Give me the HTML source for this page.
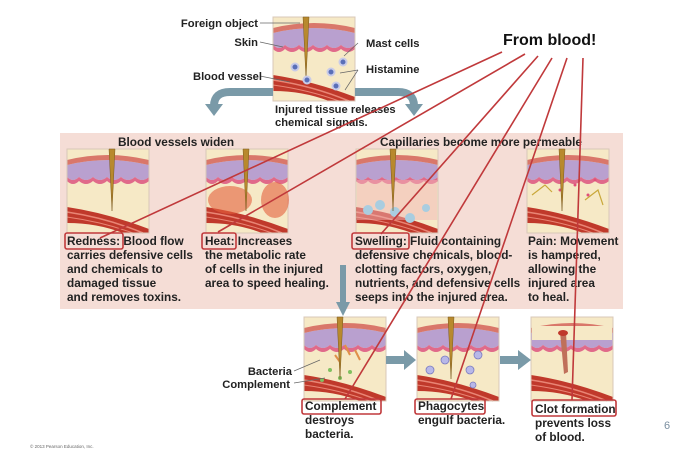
<!DOCTYPE html>
<html><head><meta charset="utf-8"><style>
html,body{margin:0;padding:0;background:#fff;}
svg{display:block;font-family:"Liberation Sans",Arial,sans-serif;}
.t{font-size:11.8px;font-weight:bold;fill:#222;}
.s{font-size:11.8px;font-weight:bold;fill:#222;}
.l{font-size:11.2px;font-weight:bold;fill:#222;}
</style></head><body>
<svg width="700" height="449" viewBox="0 0 700 449" xmlns="http://www.w3.org/2000/svg">
<defs>
<g id="panel">
  <rect x="0" y="0" width="82" height="84" fill="#f6e9c6"/>
  <path d="M0 16 Q41 6 82 16 L82 28 Q75 34 68 28 Q61 34 54 28 Q47 34 40 28 Q33 34 26 28 Q19 34 12 28 Q6 34 0 28Z" fill="#b9a0cf"/>
  <path d="M0 11 Q41 1 82 11 L82 16 Q41 6 0 16Z" fill="#d9776a"/>
  <path d="M0 28 Q6 34 12 28 Q19 34 26 28 Q33 34 40 28 Q47 34 54 28 Q61 34 68 28 Q75 34 82 28 L82 32 Q75 38 68 32 Q61 38 54 32 Q47 38 40 32 Q33 38 26 32 Q19 38 12 32 Q6 38 0 32Z" fill="#e06a8a"/>
  <path d="M0 58 Q40 64 82 80 L82 84 L56 84 Q30 74 0 74Z" fill="#c0392b"/>
  <path d="M0 63 Q40 69 76 84" stroke="#e98575" stroke-width="1.5" fill="none"/>
  <path d="M0 68 Q36 73 66 84" stroke="#e98575" stroke-width="1" fill="none"/>
  <rect x="0" y="0" width="82" height="84" fill="none" stroke="#d8c8b8" stroke-width="1"/>
</g>
<g id="needle"><path d="M-3 0 L3 0 L0 62Z" fill="#b8892d" stroke="#7a5a20" stroke-width="0.5"/></g>
</defs>

<rect x="60" y="133" width="563" height="176" fill="#f5ddd6"/>

<use href="#panel" x="273" y="17"/>
<use href="#needle" x="306" y="17"/>
<g fill="#5a6fb8" stroke="#c8cbe8" stroke-width="2">
<circle cx="295" cy="67" r="3.5"/><circle cx="307" cy="80" r="3.5"/><circle cx="331" cy="72" r="3.5"/><circle cx="336" cy="86" r="3.5"/><circle cx="343" cy="62" r="3.5"/></g>
<g stroke="#666" stroke-width="0.7" fill="none">
<line x1="260" y1="23" x2="300" y2="23"/><line x1="260" y1="42" x2="283" y2="47"/><line x1="260" y1="76" x2="290" y2="82"/>
<line x1="358" y1="43" x2="344" y2="56"/><line x1="358" y1="70" x2="340" y2="73"/><line x1="358" y1="70" x2="345" y2="90"/>
</g>
<text class="l" x="258" y="27" text-anchor="end">Foreign object</text>
<text class="l" x="258" y="46" text-anchor="end">Skin</text>
<text class="l" x="262" y="80" text-anchor="end">Blood vessel</text>
<text class="l" x="366" y="47">Mast cells</text>
<text class="l" x="366" y="73">Histamine</text>
<text class="l" x="275" y="113">Injured tissue releases</text>
<text class="l" x="275" y="126">chemical signals.</text>

<path d="M273 92 L230 92 Q214 92 214 106" stroke="#7a9aa8" stroke-width="8" fill="none"/>
<path d="M205 104 L223 104 L214 116Z" fill="#7a9aa8"/>
<path d="M355 92 L398 92 Q414 92 414 106" stroke="#7a9aa8" stroke-width="8" fill="none"/>
<path d="M405 104 L423 104 L414 116Z" fill="#7a9aa8"/>

<text class="t" x="118" y="146">Blood vessels widen</text>
<text class="t" x="380" y="146">Capillaries become more permeable</text>

<use href="#panel" x="67" y="149"/><use href="#needle" x="112" y="149"/>
<use href="#panel" x="206" y="149"/>
<ellipse cx="230" cy="200" rx="22" ry="14" fill="#e4603e" opacity="0.6"/><ellipse cx="275" cy="200" rx="14" ry="18" fill="#e4603e" opacity="0.6"/>
<use href="#needle" x="246" y="149"/>
<use href="#panel" x="356" y="149"/>
<rect x="357" y="180" width="80" height="40" fill="#f2b8b8" opacity="0.5"/>
<g fill="#a9cde0"><circle cx="368" cy="210" r="5"/><circle cx="380" cy="205" r="5"/><circle cx="395" cy="212" r="5"/><circle cx="410" cy="218" r="5"/><circle cx="426" cy="208" r="4"/></g>
<use href="#needle" x="393" y="149"/>
<use href="#panel" x="527" y="149"/>
<g stroke="#c9a83a" stroke-width="1.2" fill="none"><path d="M532 195 L545 185 L552 192"/><path d="M585 200 L598 190 L603 205"/></g>
<g fill="#e0507a"><circle cx="575" cy="185" r="1.5"/><circle cx="588" cy="195" r="1.5"/><circle cx="560" cy="190" r="1.5"/><circle cx="595" cy="180" r="1.5"/></g>
<use href="#needle" x="562" y="149"/>

<g class="s">
<text x="67" y="245">Redness: Blood flow</text>
<text x="67" y="259">carries defensive cells</text>
<text x="67" y="273">and chemicals to</text>
<text x="67" y="287">damaged tissue</text>
<text x="67" y="301">and removes toxins.</text>
<text x="205" y="245">Heat: Increases</text>
<text x="205" y="259">the metabolic rate</text>
<text x="205" y="273">of cells in the injured</text>
<text x="205" y="287">area to speed healing.</text>
<text x="355" y="245">Swelling: Fluid containing</text>
<text x="355" y="259">defensive chemicals, blood-</text>
<text x="355" y="273">clotting factors, oxygen,</text>
<text x="355" y="287">nutrients, and defensive cells</text>
<text x="355" y="301">seeps into the injured area.</text>
<text x="528" y="245">Pain: Movement</text>
<text x="528" y="259">is hampered,</text>
<text x="528" y="273">allowing the</text>
<text x="528" y="287">injured area</text>
<text x="528" y="301">to heal.</text>
</g>
<g fill="none" stroke="#c0393b" stroke-width="1.6">
<rect x="65" y="233" width="58" height="16" rx="2"/>
<rect x="202" y="233" width="34" height="16" rx="2"/>
<rect x="352" y="233" width="57" height="16" rx="2"/>
</g>

<rect x="340" y="265" width="6" height="40" fill="#7a9aa8"/>
<path d="M336 302 L350 302 L343 316Z" fill="#7a9aa8"/>

<use href="#panel" x="304" y="317"/>
<g fill="#80c060"><circle cx="330" cy="370" r="2"/><circle cx="340" cy="378" r="2"/><circle cx="350" cy="372" r="2"/><circle cx="322" cy="380" r="2"/></g>
<g stroke="#e0904a" stroke-width="2"><line x1="345" y1="345" x2="350" y2="355"/><line x1="355" y1="350" x2="360" y2="360"/><line x1="335" y1="355" x2="340" y2="362"/></g>
<use href="#needle" x="340" y="317"/>
<use href="#panel" x="417" y="317"/>
<g fill="#b8b8e8" stroke="#7a7ac0" stroke-width="0.8"><circle cx="430" cy="370" r="4"/><circle cx="445" cy="360" r="4"/><circle cx="470" cy="370" r="4"/><circle cx="478" cy="355" r="4"/><circle cx="473" cy="385" r="3"/></g>
<use href="#needle" x="451" y="317"/>
<use href="#panel" x="531" y="317"/>
<rect x="532" y="326" width="80" height="14" fill="#f6e9c6"/>
<path d="M560 332 L566 332 L568 372 L564 374Z" fill="#c0705a"/>
<ellipse cx="563" cy="333" rx="5" ry="3" fill="#c0392b"/>

<rect x="386" y="356" width="20" height="8" fill="#7a9aa8"/><path d="M404 350 L416 360 L404 370Z" fill="#7a9aa8"/>
<rect x="500" y="356" width="20" height="8" fill="#7a9aa8"/><path d="M518 350 L531 360 L518 370Z" fill="#7a9aa8"/>

<g stroke="#666" stroke-width="0.7"><line x1="294" y1="371" x2="320" y2="360"/><line x1="294" y1="383" x2="325" y2="378"/></g>
<text class="l" x="292" y="375" text-anchor="end">Bacteria</text>
<text class="l" x="290" y="388" text-anchor="end">Complement</text>

<g class="s">
<text x="305" y="410">Complement</text>
<text x="305" y="424">destroys</text>
<text x="305" y="438">bacteria.</text>
<text x="418" y="410">Phagocytes</text>
<text x="418" y="424">engulf bacteria.</text>
<text x="535" y="413">Clot formation</text>
<text x="535" y="427">prevents loss</text>
<text x="535" y="441">of blood.</text>
</g>
<g fill="none" stroke="#c0393b" stroke-width="1.6">
<rect x="302" y="399" width="79" height="15" rx="2"/>
<rect x="415" y="399" width="70" height="15" rx="2"/>
<rect x="532" y="400" width="84" height="16" rx="2"/>
</g>

<g stroke="#c0393b" stroke-width="1.6" fill="none">
<line x1="502" y1="52" x2="100" y2="238"/>
<line x1="525" y1="54" x2="218" y2="232"/>
<line x1="538" y1="56" x2="381" y2="234"/>
<line x1="552" y1="58" x2="345" y2="399"/>
<line x1="567" y1="58" x2="451" y2="399"/>
<line x1="583" y1="58" x2="572" y2="400"/>
</g>

<text x="503" y="45" font-size="16" font-weight="bold" fill="#111" font-family="'Liberation Sans',sans-serif">From blood!</text>
<text x="664" y="429" font-size="11" fill="#7b8fa0">6</text>
<text x="30" y="448" font-size="4.5" fill="#666">© 2013 Pearson Education, Inc.</text>
</svg>
</body></html>
